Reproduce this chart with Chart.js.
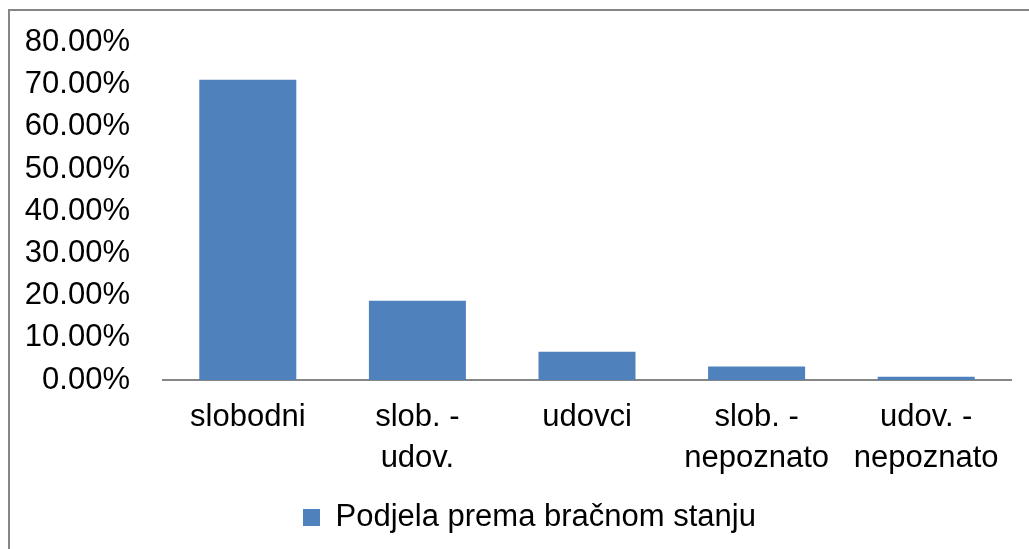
<!DOCTYPE html>
<html><head><meta charset="utf-8">
<script src="https://cdn.jsdelivr.net/npm/chart.js@4.4.0/dist/chart.umd.min.js"></script>
<style>html,body{margin:0;padding:0;background:#fff;overflow:hidden}canvas{display:block}</style>
</head><body>
<canvas id="c" width="1029" height="549" style="width:1029px;height:549px"></canvas>
<script>
const categories = ['slobodni', ['slob. -', 'udov.'], 'udovci', ['slob. -', 'nepoznato'], ['udov. -', 'nepoznato']];
const seriesName = 'Podjela prema bračnom stanju';
const values = [71.2, 18.8, 6.7, 3.2, 0.8];
const yMin = 0, yMax = 80, yStep = 10;

const FONT = {family: '"Liberation Sans", Arial, sans-serif', size: 31, lineHeight: 1.32};

const framePlugin = {
  id: 'frame',
  afterLayout(chart) {
    // the original chart frame is wider than the visible crop; centre legend on that frame
    if (chart.legend) { chart.legend.left += 14; chart.legend.right += 14; }
  },
  beforeDraw(chart) {
    const ctx = chart.ctx;
    ctx.save();
    ctx.fillStyle = '#fff';
    ctx.fillRect(0, 0, chart.width, chart.height);
    ctx.fillStyle = '#868686';
    ctx.fillRect(8, 9, 2, chart.height - 9);
    ctx.fillRect(8, 9, chart.width - 8, 2);
    ctx.restore();
  }
};

new Chart(document.getElementById('c'), {
  type: 'bar',
  data: {
    labels: categories,
    datasets: [{
      label: seriesName,
      data: values,
      backgroundColor: '#4F81BD',
      borderWidth: 0,
      categoryPercentage: 1,
      barPercentage: 0.572
    }]
  },
  options: {
    responsive: false,
    animation: false,
    devicePixelRatio: 1,
    layout: {padding: {left: 20, right: 18, top: 42.5, bottom: 6}},
    plugins: {
      tooltip: {enabled: false},
      legend: {
        position: 'bottom',
        labels: {boxWidth: 17, boxHeight: 17, color: '#000', font: FONT, padding: 10}
      }
    },
    scales: {
      x: {
        grid: {display: false, drawTicks: false},
        border: {display: true, color: '#868686', width: 2},
        ticks: {color: '#000', font: FONT, padding: 17, maxRotation: 0, autoSkip: false},
        afterFit: s => { s.height = 112; s.paddingLeft = 0; s.paddingRight = 0; }
      },
      y: {
        min: yMin, max: yMax,
        grid: {display: false, drawTicks: false},
        border: {display: false},
        ticks: {
          stepSize: yStep, color: '#000', font: {family: FONT.family, size: 31}, padding: 33,
          callback: v => v.toFixed(2) + '%'
        },
        afterFit: s => { s.width = 143; s.paddingTop = 0; s.paddingBottom = 0; }
      }
    }
  },
  plugins: [framePlugin]
});
</script>
</body></html>
